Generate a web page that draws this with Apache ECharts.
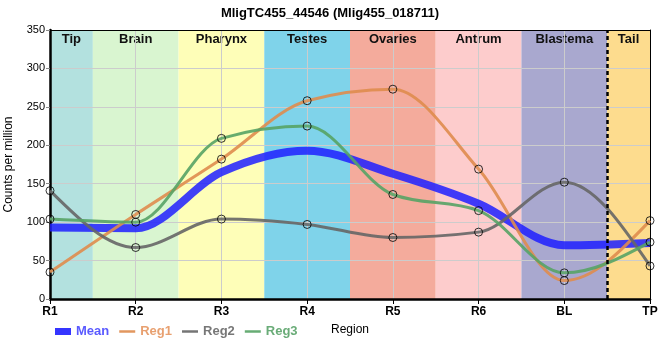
<!DOCTYPE html>
<html>
<head>
<meta charset="utf-8">
<script src="https://cdn.jsdelivr.net/npm/echarts@6/dist/echarts.min.js"></script>
<style>html,body{margin:0;padding:0;background:#fff}#c{width:660px;height:360px}</style>
</head>
<body>
<div id="c"></div>
<script>
var categories = ['R1','R2','R3','R4','R5','R6','BL','TP'];
var meanValues = [93, 92, 165, 193, 163, 124, 70, 73];
var reg1Values = [35, 110, 182, 258, 273, 169, 24, 102];
var reg2Values = [141, 67, 104, 97, 80, 87, 152, 43];
var reg3Values = [104, 100, 209, 225, 136, 115, 34, 74];
var bandNames = ['Tip','Brain','Pharynx','Testes','Ovaries','Antrum','Blastema','Tail'];
var bandColors = ['#b3e1df','#d9f5d0','#fefeb8','#7fd3ea','#f4ab9c','#fdcccc','#a9a8cf','#fddc8e'];
var yTicks = [0, 50, 100, 150, 200, 250, 300, 350];

var FONT = '"Liberation Sans", Arial, sans-serif';
var chart = echarts.init(document.getElementById('c'), null, {renderer: 'canvas'});

var n = categories.length;
var areas = bandNames.map(function (name, i) {
  var s = Math.max(0, i - 0.5), e = Math.min(n - 1, i + 0.5);
  return [{xAxis: s, name: name, itemStyle: {color: bandColors[i]}}, {xAxis: e}];
});

var seriesDefs = [
  {name: 'Mean', data: meanValues, color: '#1f1fff', width: 8, opacity: 0.85, pts: false, text: '#5a5aff'},
  {name: 'Reg1', data: reg1Values, color: '#df8c4e', width: 3, opacity: 0.9, pts: true, text: '#e8a070'},
  {name: 'Reg2', data: reg2Values, color: '#666666', width: 3, opacity: 0.9, pts: true, text: '#777777'},
  {name: 'Reg3', data: reg3Values, color: '#57a365', width: 3, opacity: 0.9, pts: true, text: '#6aac78'}
];

// monotone cubic (Fritsch-Carlson, like d3.curveMonotoneX) path through the series' own points
function sgn(v) { return v < 0 ? -1 : 1; }
function monotonePath(pts) {
  var m = pts.length, t = new Array(m), i;
  if (m < 2) return [];
  var sl = [];
  for (i = 0; i < m - 1; i++) {
    var h = pts[i + 1][0] - pts[i][0];
    sl.push(h ? (pts[i + 1][1] - pts[i][1]) / h : 0);
  }
  for (i = 1; i < m - 1; i++) {
    var h0 = pts[i][0] - pts[i - 1][0], h1 = pts[i + 1][0] - pts[i][0];
    var s0 = sl[i - 1], s1 = sl[i];
    var p = (s0 * h1 + s1 * h0) / (h0 + h1);
    t[i] = (sgn(s0) + sgn(s1)) * Math.min(Math.abs(s0), Math.abs(s1), 0.5 * Math.abs(p)) || 0;
  }
  if (m === 2) { t[0] = sl[0]; t[1] = sl[0]; }
  else {
    t[0] = (3 * sl[0] - t[1]) / 2;
    t[m - 1] = (3 * sl[m - 2] - t[m - 2]) / 2;
  }
  var cmds = [['M', pts[0][0], pts[0][1]]];
  for (i = 0; i < m - 1; i++) {
    var dx = (pts[i + 1][0] - pts[i][0]) / 3;
    cmds.push(['C', pts[i][0] + dx, pts[i][1] + dx * t[i], pts[i + 1][0] - dx, pts[i + 1][1] - dx * t[i + 1], pts[i + 1][0], pts[i + 1][1]]);
  }
  return cmds;
}
function makeRender(def) {
  return function (params, api) {
    if (params.dataIndexInside !== 0) return null;
    var cnt = params.dataInsideLength, pts = [];
    for (var j = 0; j < cnt; j++) {
      pts.push(api.coord([api.value(0, j), api.value(1, j)]));
    }
    var d = monotonePath(pts).map(function (c) { return c[0] + c.slice(1).join(','); }).join(' ');
    return {
      type: 'path',
      shape: {pathData: d},
      style: {fill: null, stroke: def.color, lineWidth: def.width, opacity: def.opacity, lineJoin: 'round', lineCap: 'butt'},
      silent: true
    };
  };
}

var series = [{
  name: 'bands', type: 'line', xAxisIndex: 1, yAxisIndex: 0, data: [], silent: true, z: 0,
  markArea: {
    silent: true, z: 1,
    label: {show: true, position: 'insideTop', distance: 3, color: '#111', fontWeight: 'bold', fontSize: 13, fontFamily: FONT},
    data: areas
  },
  markLine: {
    silent: true, symbol: 'none', z: 5,
    label: {show: false},
    lineStyle: {color: '#000', type: [4, 3], width: 2.5},
    data: [{xAxis: n - 1.5}]
  }
}];

seriesDefs.forEach(function (d) {
  series.push({
    name: d.name, type: 'custom', z: 3, clip: false,
    data: d.data.map(function (v, i) { return [i, v]; }),
    encode: {x: 0, y: 1},
    itemStyle: {color: d.color},
    renderItem: makeRender(d)
  });
});
seriesDefs.forEach(function (d) {
  if (!d.pts) return;
  series.push({
    name: d.name + ' points', type: 'scatter', data: d.data, symbol: 'circle', symbolSize: 8, z: 4, clip: false,
    itemStyle: {color: 'rgba(255,255,255,0.05)', borderColor: '#000', borderWidth: 1},
    emphasis: {disabled: true}
  });
});

chart.setOption({
  animation: false,
  title: {
    text: 'MligTC455_44546 (Mlig455_018711)', left: 'center', top: 2,
    textStyle: {fontSize: 13, fontWeight: 'bold', color: '#000', fontFamily: FONT}
  },
  grid: {left: 50, right: 10, top: 30, bottom: 61, containLabel: false, outerBoundsMode: 'none'},
  legend: {
    left: 55, top: 325, padding: 0, itemGap: 10, itemWidth: 16, itemHeight: 8,
    textStyle: {fontSize: 13, fontWeight: 'bold', fontFamily: FONT},
    data: seriesDefs.map(function (d) {
      return {
        name: d.name,
        icon: d.name === 'Mean' ? 'path://M0,0H16V7H0Z' : 'path://M0,0H16V2.5H0Z',
        itemStyle: {color: d.color, borderWidth: 0, opacity: 0.9},
        textStyle: {color: d.text}
      };
    })
  },
  xAxis: [{
    type: 'category', data: categories, boundaryGap: false, position: 'bottom', z: 2,
    name: 'Region', nameLocation: 'middle', nameGap: 25,
    nameTextStyle: {fontSize: 12, color: '#000', fontFamily: FONT},
    axisLine: {lineStyle: {color: '#000', width: 2.5}},
    axisTick: {show: true, length: 5, lineStyle: {color: '#000', width: 1}},
    axisLabel: {fontSize: 12, fontWeight: 'bold', color: '#000', margin: 7, fontFamily: FONT},
    splitLine: {show: true, lineStyle: {color: '#cccccc', width: 1}}
  }, {
    type: 'value', min: 0, max: n - 1, position: 'top', z: 2,
    axisLine: {show: true, onZero: false, lineStyle: {color: '#000', width: 1}},
    axisTick: {show: false}, axisLabel: {show: false}, splitLine: {show: false}
  }],
  yAxis: [{
    type: 'value', min: yTicks[0], max: yTicks[yTicks.length - 1], interval: yTicks[1] - yTicks[0], z: 2,
    name: 'Counts per million', nameLocation: 'middle', nameGap: 35,
    nameTextStyle: {fontSize: 12, color: '#000', fontFamily: FONT},
    axisLine: {show: true, onZero: false, lineStyle: {color: '#000', width: 2.5}},
    axisTick: {show: true, length: 4, lineStyle: {color: '#888', width: 1}},
    axisLabel: {fontSize: 11, color: '#000', margin: 5, fontFamily: FONT},
    splitLine: {show: true, lineStyle: {color: '#cccccc', width: 1}}
  }, {
    type: 'value', min: yTicks[0], max: yTicks[yTicks.length - 1], position: 'right', z: 2,
    axisLine: {show: true, onZero: false, lineStyle: {color: '#000', width: 1}},
    axisTick: {show: false}, axisLabel: {show: false}, splitLine: {show: false}
  }],
  series: series
});
</script>
</body>
</html>
